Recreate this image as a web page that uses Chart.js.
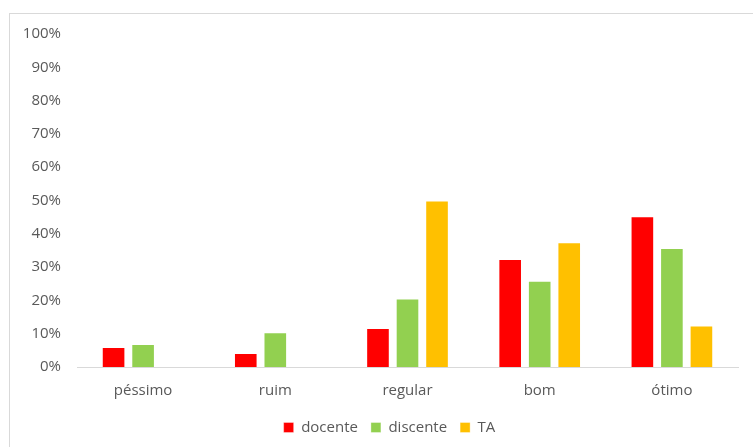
<!DOCTYPE html>
<html>
<head>
<meta charset="utf-8">
<script src="https://cdn.jsdelivr.net/npm/chart.js@4.4.0/dist/chart.umd.min.js"></script>
<style>
  html, body { margin: 0; padding: 0; overflow: hidden; background: #fff; width: 753px; height: 447px; }
  #frame {
    position: absolute; left: 9px; top: 13px;
    width: 800px; height: 500px;
    border: 1px solid #d9d9d9;
  }
  #chart { position: absolute; left: 0; top: 0; z-index: 1; }
</style>
</head>
<body>
<div id="frame"></div>
<canvas id="chart" width="769" height="447"></canvas>
<script>
const categories = ['péssimo', 'ruim', 'regular', 'bom', 'ótimo'];
const docente = [6.0, 4.2, 11.7, 32.4, 45.3];
const discente = [6.9, 10.4, 20.6, 25.9, 35.7];
const ta = [0, 0, 50, 37.5, 12.5];

const textColor = '#595959';
const font = { family: 'Open Sans', size: 15 };

const ctx = document.getElementById('chart').getContext('2d');

function bar(label, data, color) {
  return {
    label: label,
    data: data,
    backgroundColor: color,
    borderColor: 'rgba(255,255,255,0.35)',
    borderWidth: 1,
    categoryPercentage: 0.67,
    barPercentage: 0.8
  };
}

new Chart(ctx, {
  type: 'bar',
  data: {
    labels: categories,
    datasets: [
      bar('docente', docente, '#ff0000'),
      bar('discente', discente, '#92d050'),
      bar('TA', ta, '#ffc000')
    ]
  },
  options: {
    responsive: false,
    animation: false,
    layout: { padding: { left: 10, right: 0, top: 34, bottom: 2 } },
    plugins: {
      tooltip: { enabled: false },
      legend: {
        position: 'bottom',
        labels: {
          color: textColor,
          font: font,
          boxWidth: 10,
          boxHeight: 10,
          padding: 13
        }
      }
    },
    scales: {
      x: {
        grid: { display: false },
        border: { display: true, color: '#d9d9d9', width: 1 },
        ticks: { color: textColor, font: font, padding: 7 },
        afterFit: (scale) => { scale.height = 40; }
      },
      y: {
        min: 0,
        max: 100,
        grid: { display: false },
        border: { display: false },
        ticks: {
          stepSize: 10,
          color: textColor,
          font: font,
          padding: 8,
          callback: (v) => v + '%'
        },
        afterFit: (scale) => { scale.width = 67; }
      },
      // empty right-hand margin so the plot ends short of the legend box edge
      gap: {
        position: 'right',
        grid: { display: false },
        border: { display: false },
        ticks: { display: false },
        afterFit: (scale) => { scale.width = 31; }
      }
    }
  }
});
</script>
</body>
</html>
